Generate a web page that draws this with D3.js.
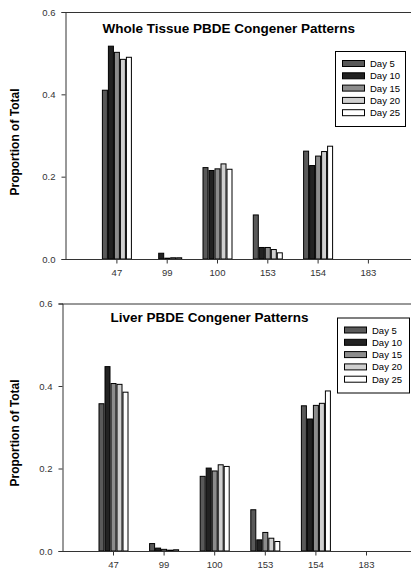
<!DOCTYPE html>
<html>
<head>
<meta charset="utf-8">
<script src="https://cdn.jsdelivr.net/npm/d3@7"></script>
<style>
  body { margin: 0; background: #fff; }
  svg { display: block; font-family: "Liberation Sans", Arial, sans-serif; }
</style>
</head>
<body>
<div id="chart"></div>
<script>
// congeners on the x axis, one bar per sampling day
const congeners = ["47", "99", "100", "153", "154", "183"];
const days = ["Day 5", "Day 10", "Day 15", "Day 20", "Day 25"];
const dayColors = ["#595959", "#222222", "#8c8c8c", "#d0d0d0", "#ffffff"];
const yTicks = [0, 0.2, 0.4, 0.6];

// whole tissue, proportion of total per congener
const wholeDay5  = [0.410, 0.000, 0.222, 0.107, 0.262, 0];
const wholeDay10 = [0.517, 0.014, 0.215, 0.028, 0.227, 0];
const wholeDay15 = [0.502, 0.002, 0.219, 0.028, 0.250, 0];
const wholeDay20 = [0.485, 0.003, 0.231, 0.023, 0.261, 0];
const wholeDay25 = [0.490, 0.003, 0.218, 0.015, 0.274, 0];

// liver
const liverDay5  = [0.357, 0.018, 0.181, 0.100, 0.352, 0];
const liverDay10 = [0.447, 0.007, 0.201, 0.027, 0.320, 0];
const liverDay15 = [0.406, 0.004, 0.194, 0.045, 0.353, 0];
const liverDay20 = [0.404, 0.002, 0.209, 0.031, 0.358, 0];
const liverDay25 = [0.385, 0.003, 0.205, 0.023, 0.388, 0];

const width = 411, height = 569;
const svg = d3.select("#chart").append("svg")
  .attr("width", width)
  .attr("height", height);

function drawPanel(p) {
  const series = p.series;
  const g = svg.append("g");

  const y = d3.scaleLinear().domain([0, 0.6]).range([p.y0, p.yTop]);
  const step = p.step;
  const x0 = d3.scaleBand()
    .domain(congeners)
    .range([p.firstCenter - step / 2, p.firstCenter + step * (congeners.length - 0.5)]);
  const groupW = 30;
  const x1 = d3.scaleBand()
    .domain(days)
    .range([(step - groupW) / 2, (step + groupW) / 2]);

  // top frame line
  g.append("line")
    .attr("x1", p.axisX).attr("x2", width)
    .attr("y1", p.yTop + 0.5).attr("y2", p.yTop + 0.5)
    .attr("stroke", "#333");

  // bars
  const groups = g.selectAll("g.cong")
    .data(congeners)
    .enter().append("g")
      .attr("class", "cong")
      .attr("transform", d => `translate(${x0(d)},0)`);

  groups.selectAll("rect")
    .data((c, i) => days.map((day, j) => ({ day, j, v: series[j][i] })))
    .enter().append("rect")
      .filter(d => d.v > 0)
      .attr("x", d => x1(d.day) + 0.5)
      .attr("y", d => y(d.v))
      .attr("width", x1.bandwidth() - 1)
      .attr("height", d => y(0) - y(d.v))
      .attr("fill", d => dayColors[d.j])
      .attr("stroke", "#000")
      .attr("stroke-width", 1);

  // y axis
  const yAxis = g.append("g")
    .attr("transform", `translate(${p.axisX + 0.5},0)`)
    .call(d3.axisLeft(y).tickValues(yTicks).tickFormat(d3.format(".1f")).tickSize(4).tickPadding(6));
  yAxis.select(".domain").attr("stroke", "#333");
  yAxis.selectAll("line").attr("stroke", "#333");
  yAxis.selectAll("text").attr("fill", "#333").style("font-size", "9.5px").style("font-family", "inherit");

  // x axis
  const xAxis = g.append("g")
    .attr("transform", `translate(0,${p.y0 + 0.5})`)
    .call(d3.axisBottom(x0).tickSize(4).tickPadding(6));
  xAxis.select(".domain").remove();
  xAxis.append("line")
    .attr("x1", p.axisX).attr("x2", width)
    .attr("stroke", "#333");
  xAxis.selectAll(".tick line").attr("stroke", "#333");
  xAxis.selectAll("text").attr("fill", "#333").style("font-size", "9.5px").style("font-family", "inherit");

  // title
  g.append("text")
    .attr("x", p.titleX).attr("y", p.titleY)
    .style("font-size", "13.5px").style("font-weight", "bold")
    .text(p.title);

  // y label
  g.append("text")
    .attr("transform", `translate(18.5,${p.labelY}) rotate(-90)`)
    .attr("text-anchor", "middle")
    .style("font-size", "12px").style("font-weight", "bold")
    .text("Proportion of Total");

  // legend
  const lg = g.append("g").attr("transform", `translate(${p.legendX},${p.legendY})`);
  lg.append("rect")
    .attr("x", 0.5).attr("y", 0.5)
    .attr("width", p.legendW).attr("height", 75)
    .attr("fill", "#fff").attr("stroke", "#000");
  const item = lg.selectAll("g.item")
    .data(days)
    .enter().append("g")
      .attr("class", "item")
      .attr("transform", (d, i) => `translate(7,${12.5 + i * 12.3})`);
  item.append("rect")
    .attr("x", 0.5).attr("y", -3)
    .attr("width", 22).attr("height", 6)
    .attr("fill", (d, i) => dayColors[i])
    .attr("stroke", "#000");
  item.append("text")
    .attr("x", 28).attr("y", 3.5)
    .style("font-size", "9.5px")
    .text(d => d);
}

drawPanel({
  series: [wholeDay5, wholeDay10, wholeDay15, wholeDay20, wholeDay25],
  title: "Whole Tissue PBDE Congener Patterns",
  axisX: 65, yTop: 12, y0: 259,
  firstCenter: 116.9, step: 50.3,
  titleX: 102.5, titleY: 32.5,
  labelY: 142,
  legendX: 335, legendY: 51, legendW: 70
});

drawPanel({
  series: [liverDay5, liverDay10, liverDay15, liverDay20, liverDay25],
  title: "Liver PBDE Congener Patterns",
  axisX: 62, yTop: 303.5, y0: 551,
  firstCenter: 113.5, step: 50.6,
  titleX: 110.5, titleY: 321.5,
  labelY: 433,
  legendX: 337, legendY: 317.5, legendW: 72
});
</script>
</body>
</html>
